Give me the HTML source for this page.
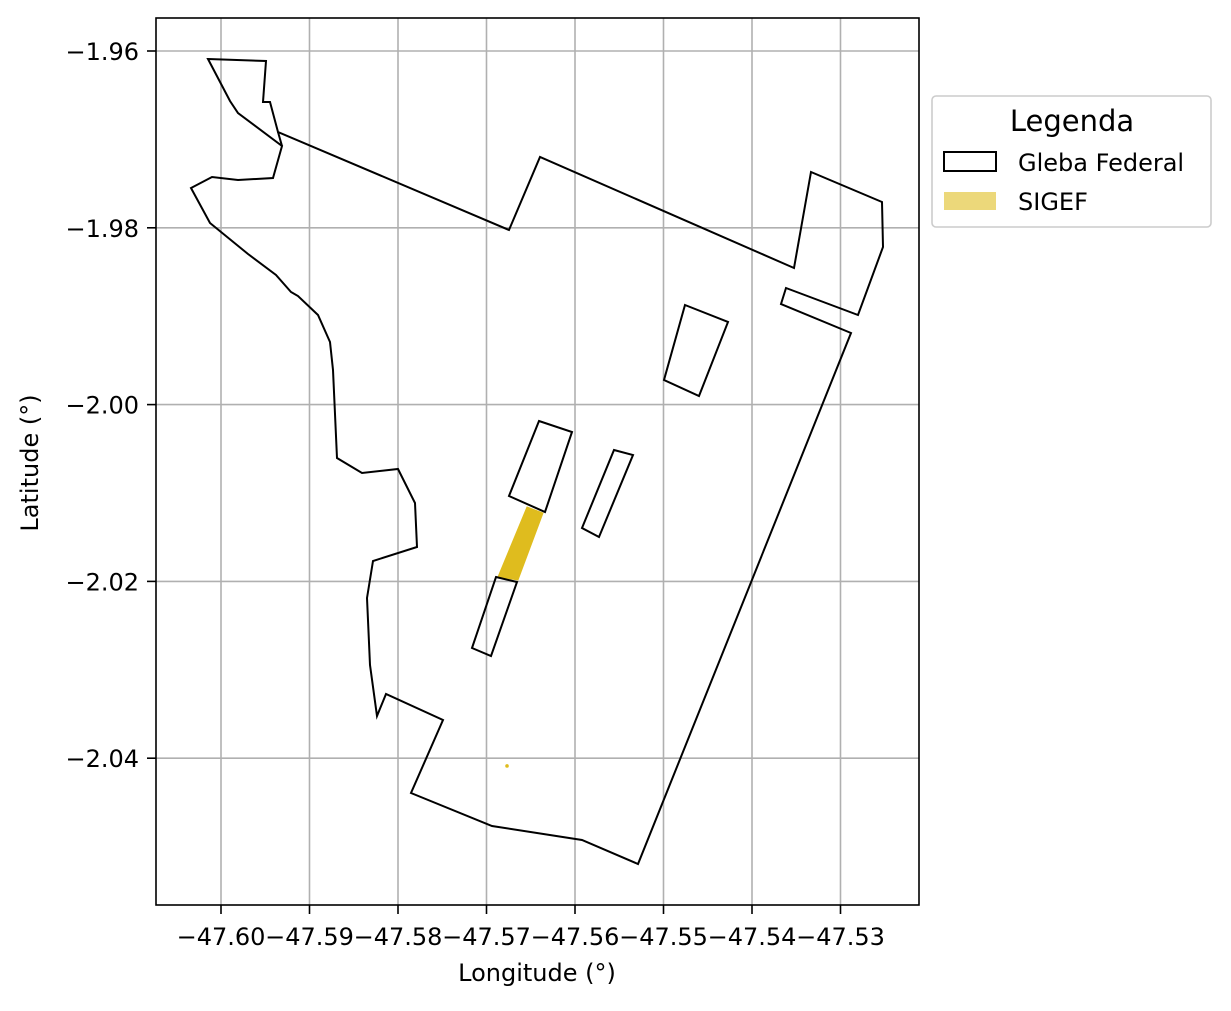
<!DOCTYPE html>
<html><head><meta charset="utf-8"><style>
body{margin:0;background:#fff;}
svg text{font-family:"DejaVu Sans","Liberation Sans",sans-serif;fill:#000;}
</style></head><body>
<svg id="chart" width="1231" height="1006" xmlns="http://www.w3.org/2000/svg">
<rect width="1231" height="1006" fill="#fff"/>
<g id="grid"></g>
<g id="marks"></g>
<rect x="156" y="18" width="763" height="887" fill="none" stroke="#000" stroke-width="1.6"/>
<g id="ticks"></g>
<text x="537" y="981" font-size="24" text-anchor="middle">Longitude (°)</text>
<text transform="translate(38,463) rotate(-90)" font-size="24" text-anchor="middle">Latitude (°)</text>
<g>
<rect x="932" y="96" width="279" height="131" rx="4" fill="#fff" stroke="#ccc" stroke-width="1.6"/>
<text x="1072" y="131" font-size="29" text-anchor="middle">Legenda</text>
<rect x="944" y="152" width="52" height="19" fill="none" stroke="#000" stroke-width="2"/>
<text x="1018" y="171" font-size="24">Gleba Federal</text>
<rect x="944" y="192" width="52" height="18" fill="#ecd87a"/>
<text x="1018" y="210" font-size="24">SIGEF</text>
</g>
</svg>
<script>
const xTicks=[-47.60,-47.59,-47.58,-47.57,-47.56,-47.55,-47.54,-47.53];
const yTicks=[-1.96,-1.98,-2.00,-2.02,-2.04];
const xTickLabels=["−47.60","−47.59","−47.58","−47.57","−47.56","−47.55","−47.54","−47.53"];
const yTickLabels=["−1.96","−1.98","−2.00","−2.02","−2.04"];
const glebaMain=[[-47.60147,-1.96090],[-47.59492,-1.96113],[-47.59525,-1.96577],[-47.59446,-1.96577],[-47.59356,-1.96916],[-47.56746,-1.98025],[-47.56395,-1.97199],[-47.53525,-1.98455],[-47.53333,-1.97369],[-47.52531,-1.97708],[-47.52520,-1.98217],[-47.52802,-1.98986],[-47.53616,-1.98681],[-47.53672,-1.98862],[-47.52881,-1.99190],[-47.55288,-2.05197],[-47.55921,-2.04925],[-47.56938,-2.04767],[-47.57853,-2.04394],[-47.57492,-2.03568],[-47.58136,-2.03274],[-47.58237,-2.03523],[-47.58316,-2.02946],[-47.58350,-2.02188],[-47.58282,-2.01769],[-47.57785,-2.01611],[-47.57808,-2.01113],[-47.58000,-2.00729],[-47.58407,-2.00774],[-47.58689,-2.00604],[-47.58734,-1.99609],[-47.58768,-1.99292],[-47.58904,-1.98986],[-47.59130,-1.98771],[-47.59209,-1.98726],[-47.59379,-1.98534],[-47.59695,-1.98296],[-47.60124,-1.97946],[-47.60339,-1.97550],[-47.60102,-1.97425],[-47.59808,-1.97459],[-47.59412,-1.97437],[-47.59311,-1.97075],[-47.59808,-1.96701],[-47.59898,-1.96566]];
const glebaLink=[[-47.59356,-1.96916],[-47.59311,-1.97075]];
const glebaR1=[[-47.56407,-2.00186],[-47.56034,-2.00310],[-47.56339,-2.01215],[-47.56746,-2.01034]];
const glebaR2=[[-47.55559,-2.00514],[-47.55345,-2.00570],[-47.55729,-2.01498],[-47.55921,-2.01396]];
const glebaR3=[[-47.56893,-2.01950],[-47.56655,-2.02007],[-47.56949,-2.02844],[-47.57164,-2.02753]];
const glebaR4=[[-47.54757,-1.98873],[-47.54271,-1.99066],[-47.54599,-1.99903],[-47.54994,-1.99722]];
const sigefMain=[[-47.56542,-2.01158],[-47.56362,-2.01226],[-47.56644,-2.01984],[-47.56870,-2.01950]];
const sigefDot=[-47.56768,-2.04088];

const X=v=>221+(v+47.60)/0.01*88.5;
const Y=v=>51+(-1.96-v)/0.01*88.4;
const NS="http://www.w3.org/2000/svg";
function mk(tag,attrs,parent){const e=document.createElementNS(NS,tag);for(const k in attrs)e.setAttribute(k,attrs[k]);parent.appendChild(e);return e;}
const grid=document.getElementById('grid'),marks=document.getElementById('marks'),ticks=document.getElementById('ticks');
xTicks.forEach((t,i)=>{
  const l=mk('line',{x1:X(t),x2:X(t),y1:18,y2:905,stroke:'#b0b0b0','stroke-width':1.6},grid);
  
  
  const tk=mk('line',{x1:X(t),x2:X(t),y1:905,y2:914,stroke:'#000','stroke-width':1.6},ticks);
  
  
  const tx=mk('text',{x:X(t),y:945,'font-size':24,'text-anchor':'middle'},ticks);
  tx.textContent=xTickLabels[i];
  
  
});
yTicks.forEach((t,i)=>{
  const l=mk('line',{x1:156,x2:919,y1:Y(t),y2:Y(t),stroke:'#b0b0b0','stroke-width':1.6},grid);
  
  
  const tk=mk('line',{x1:147,x2:156,y1:Y(t),y2:Y(t),stroke:'#000','stroke-width':1.6},ticks);
  
  
  const tx=mk('text',{x:139,y:Y(t)+9,'font-size':24,'text-anchor':'end'},ticks);
  tx.textContent=yTickLabels[i];
  
  
});
const pts=a=>a.map(p=>X(p[0]).toFixed(1)+','+Y(p[1]).toFixed(1)).join(' ');
const s1=mk('polygon',{points:pts(sigefMain),fill:'#dfbc1e',stroke:'#dfbc1e','stroke-width':1},marks);


const s2=mk('circle',{cx:X(sigefDot[0]),cy:Y(sigefDot[1]),r:1.8,fill:'#dfbc1e'},marks);


[[glebaMain,'gleba-main'],[glebaR1,'gleba-rect-1'],[glebaR2,'gleba-rect-2'],[glebaR3,'gleba-rect-3'],[glebaR4,'gleba-rect-4']].forEach(([a,n])=>{
  const p=mk('polygon',{points:pts(a),fill:'none',stroke:'#000','stroke-width':2,'stroke-linejoin':'miter'},marks);
  
  
});
const lk=mk('polyline',{points:pts(glebaLink),fill:'none',stroke:'#000','stroke-width':2},marks);


</script>
</body></html>
